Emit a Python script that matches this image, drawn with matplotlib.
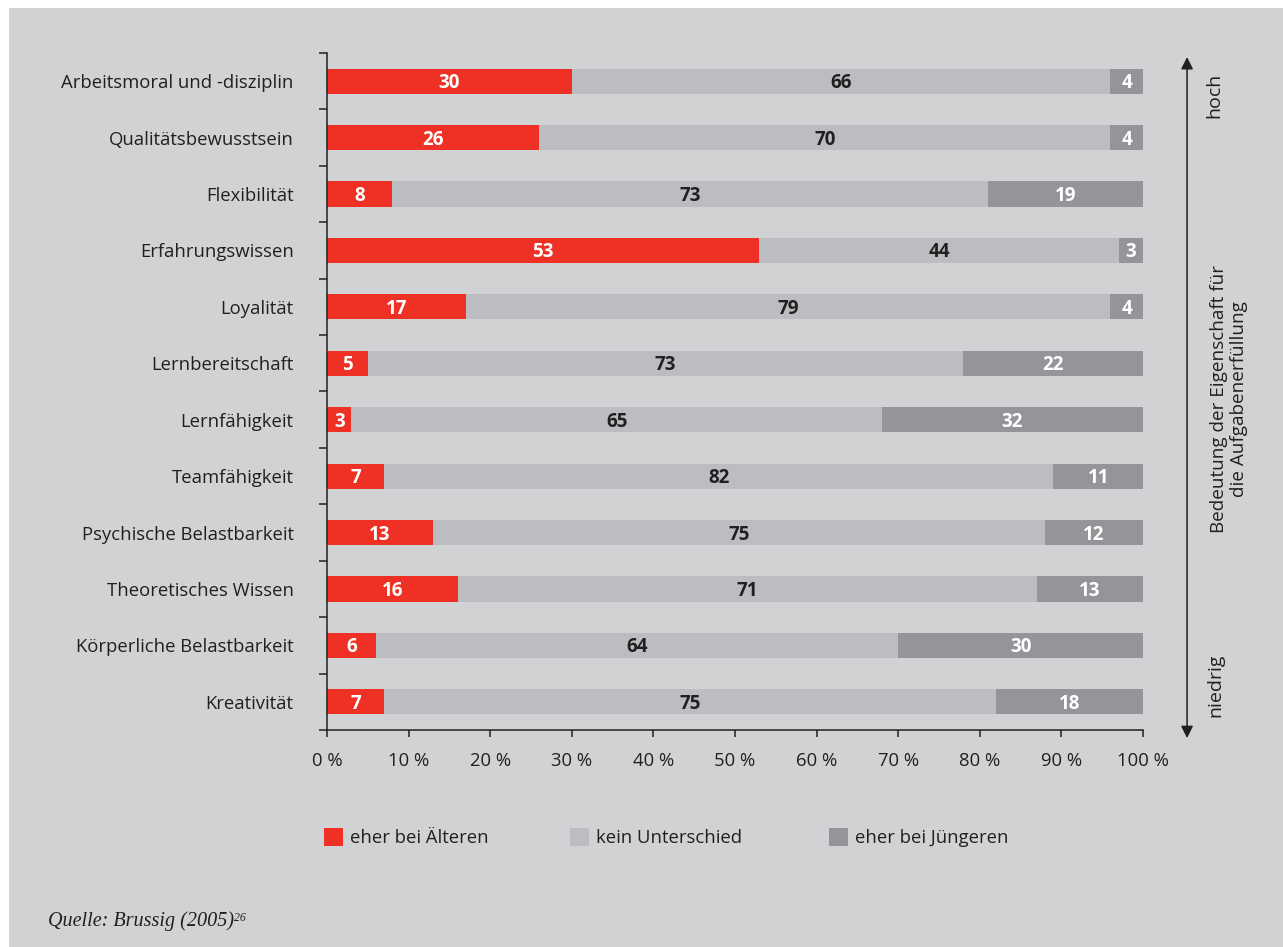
import numpy as np
import matplotlib.pyplot as plt
from matplotlib.patches import Rectangle

# Daten: Anteile in Prozent je Eigenschaft
eigenschaften = [
    "Arbeitsmoral und -disziplin", "Qualitätsbewusstsein", "Flexibilität",
    "Erfahrungswissen", "Loyalität", "Lernbereitschaft", "Lernfähigkeit",
    "Teamfähigkeit", "Psychische Belastbarkeit", "Theoretisches Wissen",
    "Körperliche Belastbarkeit", "Kreativität",
]
aeltere = [30, 26, 8, 53, 17, 5, 3, 7, 13, 16, 6, 7]
kein_unterschied = [66, 70, 73, 44, 79, 73, 65, 82, 75, 71, 64, 75]
juengere = [4, 4, 19, 3, 4, 22, 32, 11, 12, 13, 30, 18]
serien_namen = ["eher bei Älteren", "kein Unterschied", "eher bei Jüngeren"]
x_ticks = [0, 10, 20, 30, 40, 50, 60, 70, 80, 90, 100]

farben = ["#ee3124", "#bcbdc0", "#939598"]
text_farben = ["white", "#231f20", "white"]
dunkel = "#231f20"
hintergrund = "#d1d2d4"

plt.rcParams['font.family'] = ['Open Sans', 'DejaVu Sans']

W, H = 1283, 947
fig = plt.figure(figsize=(W / 100, H / 100), dpi=100, facecolor="white")
fig.add_artist(Rectangle((9 / W, 0), 1, 1 - 8 / H, transform=fig.transFigure,
                         facecolor=hintergrund, edgecolor="none", zorder=-10))

ax = fig.add_axes([327 / W, 1 - 730 / H, 816 / W, 677 / H])
ax.set_facecolor("none")

y = np.arange(len(eigenschaften))
links = np.zeros(len(eigenschaften))
for werte, farbe, tfarbe in zip([aeltere, kein_unterschied, juengere], farben, text_farben):
    werte = np.array(werte)
    ax.barh(y, werte, left=links, height=0.445, color=farbe, edgecolor="none")
    # Zahlen mittig in jedes Segment
    for yi, l, v in zip(y, links, werte):
        ax.text(l + v / 2, yi + 0.035, str(v), ha="center", va="center",
                color=tfarbe, fontsize=13.5, fontweight="bold")
    links += werte

ax.set_xlim(0, 100)
ax.set_ylim(len(eigenschaften) - 0.5, -0.5)

# Kategorien als Hauptticks ohne Strich, Trennstriche als Nebenticks
ax.set_yticks(y)
ax.set_yticklabels(eigenschaften, fontsize=13.3, color=dunkel)
ax.set_yticks(np.arange(len(eigenschaften) + 1) - 0.5, minor=True)
ax.tick_params(axis="y", which="major", length=0, pad=24)
ax.tick_params(axis="y", which="minor", length=6, width=1.1, color=dunkel)

ax.set_xticks(x_ticks)
ax.set_xticklabels([f"{t} %" for t in x_ticks], fontsize=13.3, color=dunkel)
ax.tick_params(axis="x", length=5, width=1.1, color=dunkel, pad=11)

for s in ["top", "right"]:
    ax.spines[s].set_visible(False)
for s in ["left", "bottom"]:
    ax.spines[s].set_color(dunkel)
    ax.spines[s].set_linewidth(1.1)

# Pfeil rechts: Bedeutung hoch/niedrig
ax.annotate("", xy=(1.054, 0.994), xytext=(1.054, -0.012),
            xycoords="axes fraction", textcoords="axes fraction",
            arrowprops=dict(arrowstyle="<|-|>", color=dunkel, lw=1.1,
                            mutation_scale=18, shrinkA=0, shrinkB=0),
            annotation_clip=False)
fig.text(1214 / W, 1 - 95 / H, "hoch", rotation=90, ha="center", va="center",
         fontsize=14, color=dunkel)
fig.text(1215 / W, 1 - 685 / H, "niedrig", rotation=90, ha="center", va="center",
         fontsize=14, color=dunkel)
fig.text(1229 / W, 1 - 399 / H, "Bedeutung der Eigenschaft für\ndie Aufgabenerfüllung",
         rotation=90, ha="center", va="center", fontsize=13.6, color=dunkel,
         multialignment="center", linespacing=1.15)

# Legende
swatch_x = [324, 570, 829]
for sx, farbe, name in zip(swatch_x, farben, serien_namen):
    fig.add_artist(Rectangle((sx / W, 1 - 846 / H), 19 / W, 18 / H,
                             transform=fig.transFigure, facecolor=farbe, edgecolor="none"))
    fig.text((sx + 26) / W, 1 - 838 / H, name, ha="left", va="center",
             fontsize=13.3, color=dunkel)

# Quelle
q = fig.text(48 / W, 1 - 921 / H, "Quelle: Brussig (2005)", ha="left", va="center",
             fontsize=14.5, style="italic", family="Liberation Serif", color=dunkel)
ax.annotate("26", xy=(1.0, 0.98), xycoords=q, ha="left", va="top",
            fontsize=8.5, style="italic", family="Liberation Serif", color=dunkel,
            annotation_clip=False)

fig.savefig("out.png", dpi=100, facecolor=fig.get_facecolor())
